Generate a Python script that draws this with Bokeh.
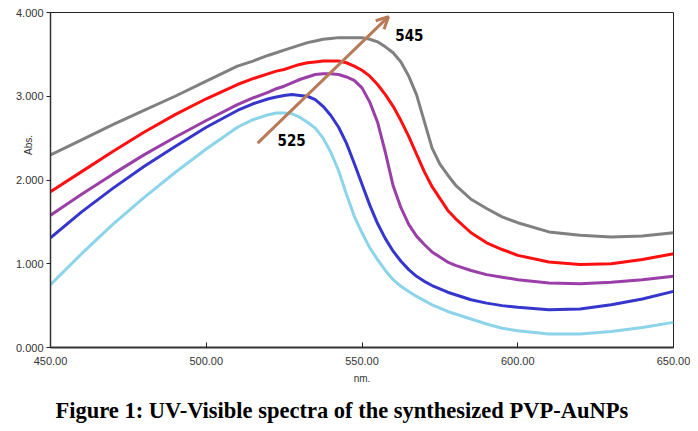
from bokeh.plotting import figure
from bokeh.models import Range1d, FixedTicker, NumeralTickFormatter, Arrow, OpenHead, Title
from bokeh.core.properties import value
from bokeh.embed import file_html
from bokeh.resources import INLINE

# ---- data ----
wavelength = [450, 460, 470, 480, 490, 500, 510, 515,
              520, 522.5, 525, 527.5, 530, 532.5, 535, 537.5, 540, 542.5, 545, 547.5,
              550, 552.5, 555, 557.5, 560, 562.5, 565, 567.5, 570, 572.5, 575, 577.5, 580,
              585, 590, 595, 600, 610, 620, 630, 640, 650]

abs_gray = [2.30, 2.48, 2.66, 2.83, 3.00, 3.18, 3.36, 3.42,
            3.49, 3.52, 3.55, 3.58, 3.61, 3.64, 3.66, 3.68, 3.69, 3.70, 3.70, 3.70,
            3.70, 3.68, 3.65, 3.59, 3.52, 3.41, 3.24, 3.02, 2.70, 2.38, 2.19, 2.06, 1.94,
            1.77, 1.66, 1.56, 1.49, 1.38, 1.34, 1.32, 1.33, 1.37]
abs_red = [1.86, 2.10, 2.34, 2.57, 2.78, 2.97, 3.14, 3.21,
           3.27, 3.30, 3.32, 3.35, 3.38, 3.40, 3.41, 3.42, 3.42, 3.42, 3.40, 3.36,
           3.31, 3.24, 3.14, 3.02, 2.88, 2.71, 2.52, 2.31, 2.10, 1.92, 1.78, 1.64, 1.54,
           1.37, 1.25, 1.17, 1.10, 1.02, 0.99, 1.00, 1.05, 1.12]
abs_purple = [1.58, 1.83, 2.07, 2.30, 2.51, 2.71, 2.90, 2.98,
              3.05, 3.09, 3.12, 3.16, 3.20, 3.23, 3.26, 3.27, 3.27, 3.26, 3.23, 3.19,
              3.10, 2.93, 2.69, 2.33, 1.93, 1.67, 1.47, 1.33, 1.23, 1.14, 1.08, 1.02, 0.98,
              0.92, 0.87, 0.84, 0.81, 0.77, 0.76, 0.78, 0.81, 0.85]
abs_blue = [1.31, 1.62, 1.90, 2.16, 2.40, 2.63, 2.83, 2.91,
            2.97, 2.99, 3.01, 3.02, 3.01, 3.00, 2.96, 2.88, 2.77, 2.63, 2.44, 2.20,
            1.95, 1.70, 1.48, 1.30, 1.15, 1.03, 0.93, 0.85, 0.79, 0.74, 0.70, 0.66, 0.63,
            0.57, 0.53, 0.50, 0.48, 0.45, 0.46, 0.51, 0.58, 0.67]
abs_cyan = [0.75, 1.12, 1.47, 1.79, 2.09, 2.37, 2.63, 2.72,
            2.78, 2.80, 2.80, 2.79, 2.75, 2.69, 2.62, 2.50, 2.33, 2.11, 1.83, 1.57,
            1.37, 1.19, 1.05, 0.92, 0.81, 0.73, 0.67, 0.61, 0.56, 0.51, 0.47, 0.43, 0.40,
            0.34, 0.28, 0.23, 0.20, 0.16, 0.16, 0.19, 0.24, 0.30]

series = [abs_gray, abs_red, abs_purple, abs_blue, abs_cyan]
colors = ["#808080", "#ff1010", "#9a3ea8", "#3636cc", "#8cd4ea"]

x_ticks = [450, 500, 550, 600, 650]
y_ticks = [0, 1, 2, 3, 4]

peak_labels = ["525", "545"]
peak_label_x = [527.4, 565.2]
peak_label_y = [2.48, 3.73]
arrow_start = (516.5, 2.44)
arrow_end = (558.5, 3.95)

caption = "Figure 1: UV-Visible spectra of the synthesized PVP-AuNPs"

# ---- figure ----
p = figure(width=690, height=431, output_backend="svg", toolbar_location=None,
           x_range=Range1d(450, 650), y_range=Range1d(0, 4),
           min_border_left=50, min_border_right=17, min_border_top=12, min_border_bottom=83)
p.title.visible = False
p.xgrid.visible = False
p.ygrid.visible = False
p.outline_line_color = "#222222"
p.outline_line_width = 1
p.background_fill_color = "white"
p.border_fill_color = "white"

for ys, c in zip(series, colors):
    p.line(wavelength, ys, line_color=c, line_width=3)

# axes
xa = p.xaxis[0]
xa.ticker = FixedTicker(ticks=x_ticks)
xa.formatter = NumeralTickFormatter(format="0.00")
xa.major_tick_in = 5
xa.major_tick_out = 0
xa.minor_tick_line_color = None
xa.axis_line_width = 2
xa.axis_line_color = "#333333"
xa.major_tick_line_color = "#222222"
xa.major_label_text_font = "Liberation Sans"
xa.major_label_text_font_size = "11px"
xa.major_label_text_color = "#333333"
xa.major_label_standoff = 9
xa.axis_label = "nm."
xa.axis_label_text_font = "Liberation Sans"
xa.axis_label_text_font_size = "10px"
xa.axis_label_text_font_style = "normal"
xa.axis_label_text_color = "#333333"
xa.axis_label_standoff = 5

ya = p.yaxis[0]
ya.ticker = FixedTicker(ticks=y_ticks)
ya.formatter = NumeralTickFormatter(format="0.000")
ya.major_tick_in = 0
ya.major_tick_out = 4
ya.minor_tick_line_color = None
ya.axis_line_width = 1.5
ya.axis_line_color = "#333333"
ya.major_tick_line_color = "#222222"
ya.major_label_text_font = "Liberation Sans"
ya.major_label_text_font_size = "11px"
ya.major_label_text_color = "#333333"
ya.major_label_standoff = 3
# "Abs." sits inside the tick-label column, between 2.000 and 3.000, as in the original
ya.axis_label = "\u2003" * 7 + "Abs."
ya.axis_label_text_font = "Liberation Sans"
ya.axis_label_text_font_size = "10px"
ya.axis_label_text_font_style = "normal"
ya.axis_label_text_color = "#333333"
ya.axis_label_standoff = -21

# arrow and peak labels
brown = "#b97a57"
p.add_layout(Arrow(end=OpenHead(size=12, line_color=brown, line_width=3),
                   x_start=arrow_start[0], y_start=arrow_start[1],
                   x_end=arrow_end[0], y_end=arrow_end[1],
                   line_color=brown, line_width=3))
p.text(peak_label_x, peak_label_y, text=peak_labels, text_font=value("DejaVu Sans Condensed"),
       text_font_style="bold", text_font_size="15px", text_color="black",
       text_align="center", text_baseline="middle")

# caption
p.add_layout(Title(text=caption, align="left", offset=5, text_font="Liberation Serif",
                   text_font_style="bold", text_font_size="22.5px", text_color="black",
                   standoff=18), "below")

open("out.html", "w").write(file_html(p, INLINE))
